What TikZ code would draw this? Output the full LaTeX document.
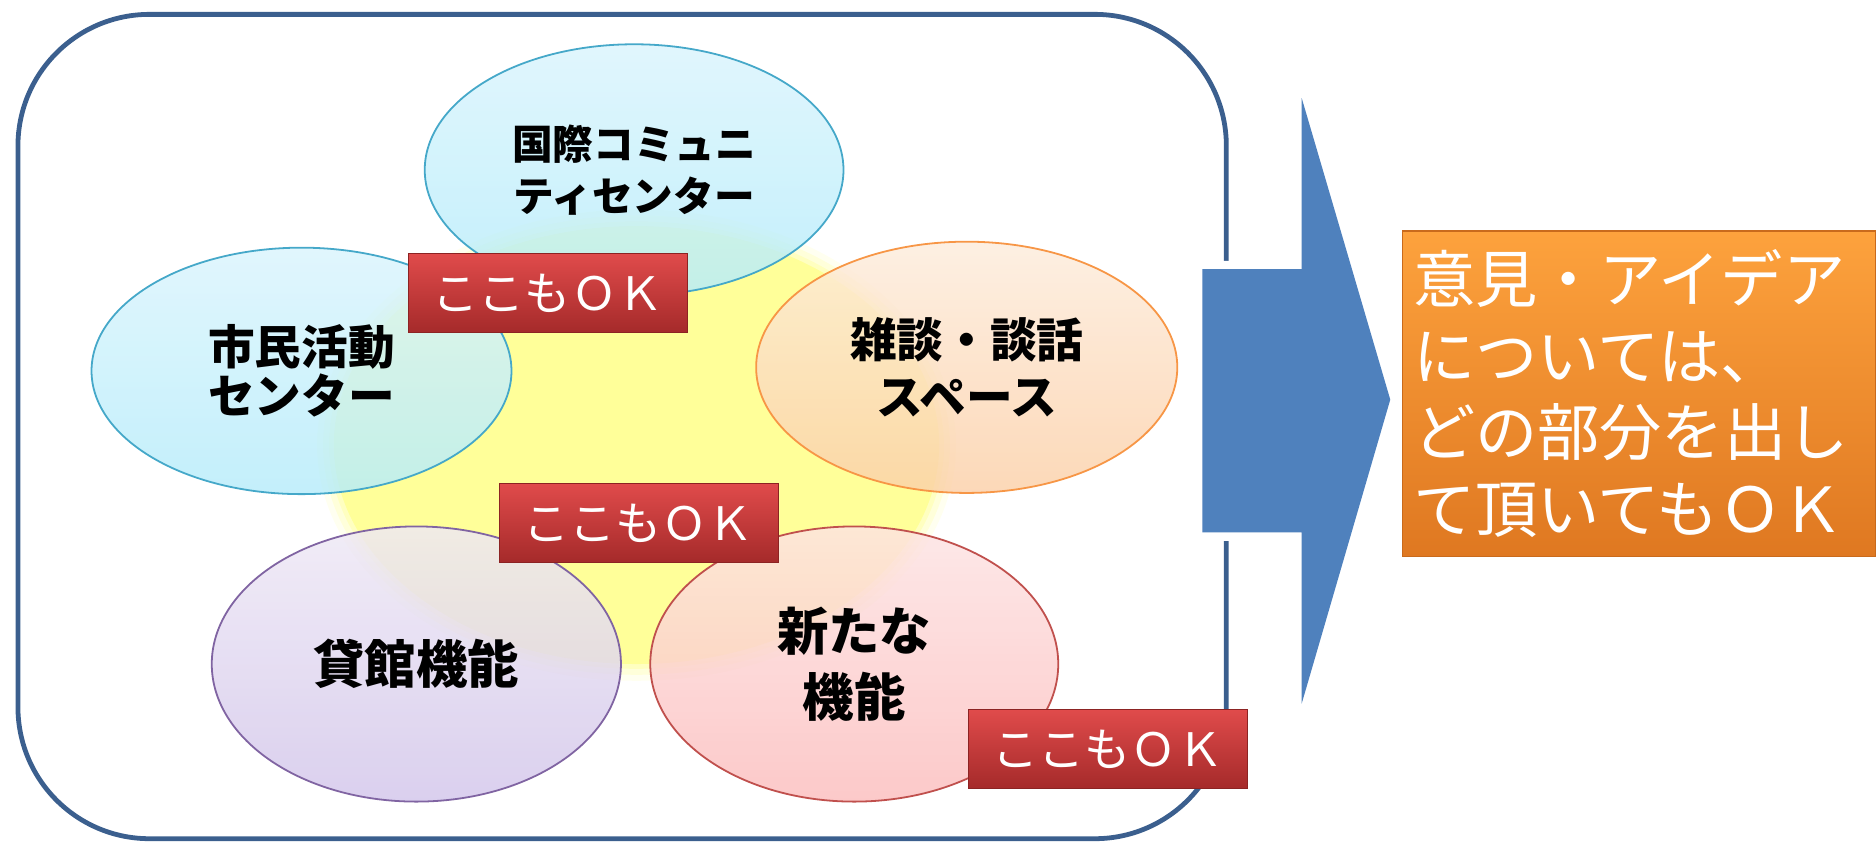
\documentclass[tikz,border=0pt]{standalone}
\usepackage{fontspec}
\setmainfont{Noto Sans CJK JP}
\usetikzlibrary{shapes.geometric}

\definecolor{frameblue}{HTML}{3B5F8E}
\definecolor{arrowblue}{HTML}{4F81BD}
\definecolor{yel}{HTML}{FFFF99}
\definecolor{cyanA}{HTML}{DAF4FC}
\definecolor{cyanB}{HTML}{B6ECFA}
\definecolor{cyanline}{HTML}{45A8C9}
\definecolor{peachA}{HTML}{FDECDC}
\definecolor{peachB}{HTML}{FBD0A8}
\definecolor{peachline}{HTML}{F79646}
\definecolor{lavA}{HTML}{EEE8F5}
\definecolor{lavB}{HTML}{D2C5EA}
\definecolor{lavline}{HTML}{8064A2}
\definecolor{pinkA}{HTML}{FDE3E3}
\definecolor{pinkB}{HTML}{FBBDBD}
\definecolor{pinkline}{HTML}{C0504D}
\definecolor{redA}{HTML}{E04B4B}
\definecolor{redB}{HTML}{A52A2A}
\definecolor{redline}{HTML}{8C2323}
\definecolor{orgA}{HTML}{FDA23D}
\definecolor{orgB}{HTML}{DF7821}
\definecolor{orgline}{HTML}{C96A1C}

\tikzset{
  topic/.style={ellipse, draw=#1line, line width=1.5pt, top color=#1A, bottom color=#1B,
    fill opacity=0.82, text opacity=1, align=center, inner sep=0pt},
  okbox/.style={rectangle, draw=redline, line width=1pt, top color=redA, bottom color=redB,
    minimum width=233pt, minimum height=66pt, inner sep=0pt, text=white,
    font=\fontsize{38.5}{38.5}\selectfont},
  ideabox/.style={rectangle, draw=orgline, line width=1pt, top color=orgA, bottom color=orgB,
    minimum width=396pt, minimum height=272pt, inner xsep=9pt, inner ysep=0pt,
    text width=378pt, align=left, text=white, font=\fontsize{52}{64}\selectfont},
}

\begin{document}
\begin{tikzpicture}[x=1pt, y=-1pt]
    \useasboundingbox (0,0) rectangle (1568,704);

    % Frame round the ideas
    \draw[frameblue, line width=4pt, rounded corners=110pt] (15,12) rectangle (1025,701);

    % Yellow centre, soft rim
    \foreach \r/\o in {14/0.15, 9/0.25, 4/0.4}
        \fill[yel, opacity=\o] (532,372) ellipse [x radius=253+\r, y radius=183+\r];
    \fill[yel] (532,372) ellipse [x radius=253, y radius=183];

    % The five parts
    \node[topic=cyan, minimum width=350pt, minimum height=210pt,
        font=\bfseries\fontsize{34}{43}\selectfont] (kokusai) at (530,142) {国際コミュニ\\ティセンター};
    \node[topic=cyan, minimum width=351pt, minimum height=206pt,
        font=\bfseries\fontsize{39}{41}\selectfont] (shimin) at (252,310) {市民活動\\センター};
    \node[topic=peach, minimum width=352pt, minimum height=210pt,
        font=\bfseries\fontsize{39}{47}\selectfont] (zatsudan) at (808,307) {雑談・談話\\スペース};
    \node[topic=lav, minimum width=342pt, minimum height=230pt,
        font=\bfseries\fontsize{43}{43}\selectfont] (kashikan) at (348,555) {貸館機能};
    \node[topic=pink, minimum width=341pt, minimum height=230pt,
        font=\bfseries\fontsize{43}{55}\selectfont] (arata) at (714,555) {新たな\\機能};

    % Red labels
    \node[okbox] (ok1) at (458,245) {ここもＯＫ};
    \node[okbox] (ok2) at (534,437) {ここもＯＫ};
    \node[okbox] (ok3) at (926,626) {ここもＯＫ};

    % Big arrow
    \path[fill=arrowblue, preaction={draw=white, line width=14pt, line join=round}]
        (1005,225) -- (1088,225) -- (1088,82) -- (1162,334) -- (1088,588)
        -- (1088,445) -- (1005,445) -- cycle;

    % Note on the right
    \node[ideabox] (idea) at (1370,329) {意見・アイデア\\については、\\どの部分を出し\\て頂いてもＯＫ};
\end{tikzpicture}
\end{document}
